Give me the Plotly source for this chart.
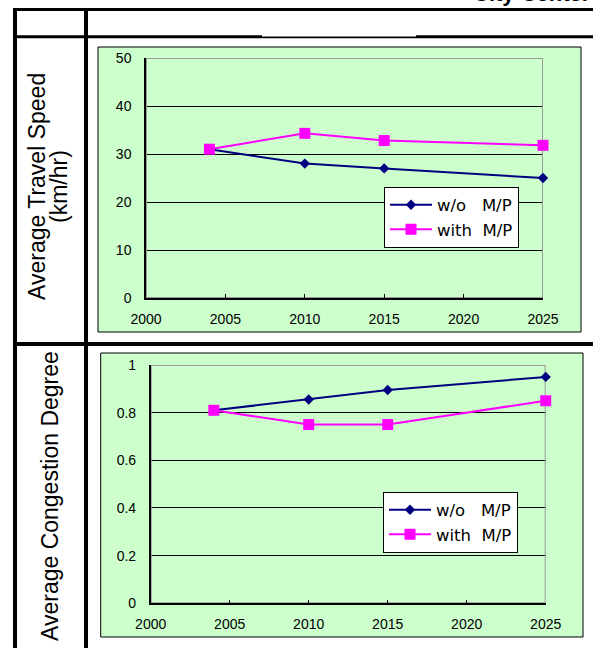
import plotly.graph_objects as go

# ---- data ----
years = [2004, 2010, 2015, 2025]
speed_without_mp = [31, 28, 27, 25]
speed_with_mp = [31, 34.3, 32.8, 31.8]
congestion_without_mp = [0.81, 0.855, 0.895, 0.95]
congestion_with_mp = [0.81, 0.75, 0.75, 0.85]
series_names = ["w/o\u00a0\u00a0\u00a0M/P", "with\u00a0\u00a0M/P"]
row_labels = ["Average Travel Speed", "(km/hr)", "Average Congestion Degree"]
header_text = "City Center"

x_range = [2000, 2025]
speed_range = [0, 50]
congestion_range = [0, 1]

W, H = 593, 648
FONT = "Arial, Liberation Sans, sans-serif"
LEGEND_FONT = "DejaVu Sans, Arial, sans-serif"
NAVY = "#000080"
MAGENTA = "#FF00FF"
PANEL = "#CCFFCC"
PLOTBG = "#FFFFCC"


def px_x(v):
    return v / W


def px_y(v):
    return 1 - v / H


fig = go.Figure()


def add_pair(ys_without, ys_with, xa, ya, leg):
    fig.add_trace(go.Scatter(
        x=years, y=ys_without, name=series_names[0], mode="lines+markers",
        line=dict(color=NAVY, width=2), marker=dict(symbol="diamond", size=8, color=NAVY),
        xaxis=xa, yaxis=ya, legend=leg, cliponaxis=False))
    fig.add_trace(go.Scatter(
        x=years, y=ys_with, name=series_names[1], mode="lines+markers",
        line=dict(color=MAGENTA, width=2), marker=dict(symbol="square", size=11, color=MAGENTA),
        xaxis=xa, yaxis=ya, legend=leg, cliponaxis=False))


add_pair(speed_without_mp, speed_with_mp, "x", "y", "legend")
add_pair(congestion_without_mp, congestion_with_mp, "x2", "y2", "legend2")

tickfont = dict(family=FONT, size=14, color="black")

xcommon = dict(range=x_range, dtick=5, tick0=2000, showgrid=False, zeroline=False,
               showline=True, linecolor="black", linewidth=1.5,
               ticks="inside", ticklen=4, tickcolor="black", tickwidth=1,
               tickfont=tickfont, ticklabelstandoff=7, fixedrange=True, automargin=False)
ycommon = dict(showgrid=True, gridcolor="black", gridwidth=1, zeroline=False,
               showline=True, linecolor="black", linewidth=1.5,
               ticks="", tickfont=tickfont, ticklabelstandoff=10, fixedrange=True,
               automargin=False)

legend_common = dict(bgcolor="white", bordercolor="black", borderwidth=1,
                     font=dict(family=LEGEND_FONT, size=16.5, color="black"),
                     xanchor="left", yanchor="top", tracegroupgap=0,
                     itemwidth=42)

fig.update_layout(
    template="none",
    width=W, height=H, autosize=False,
    margin=dict(l=0, r=0, t=0, b=0, pad=0),
    paper_bgcolor="white", plot_bgcolor=PLOTBG,
    font=dict(family=FONT, color="black"),
    xaxis=dict(domain=[px_x(146), px_x(543)], anchor="y", **xcommon),
    yaxis=dict(domain=[px_y(298), px_y(58)], anchor="x", range=speed_range, dtick=10,
               **ycommon),
    xaxis2=dict(domain=[px_x(150.7), px_x(545.7)], anchor="y2", **xcommon),
    yaxis2=dict(domain=[px_y(603.3), px_y(365)], anchor="x2", range=congestion_range,
                dtick=0.2, **ycommon),
    legend=dict(x=px_x(384), y=px_y(186.5), **legend_common),
    legend2=dict(x=px_x(383), y=px_y(491.5), **legend_common),
    showlegend=True,
)

shapes = []
# green chart panels
for x0, y0, x1, y1 in [(98, 47, 581, 332), (100.7, 353, 583, 637)]:
    shapes.append(dict(type="rect", xref="paper", yref="paper", layer="below",
                       x0=px_x(x0), x1=px_x(x1), y0=px_y(y1), y1=px_y(y0),
                       fillcolor=PANEL, line=dict(color="black", width=1)))
# grey frame around each plot area (above the grid, beneath the series)
for xr, yr, yrange in [("x", "y", speed_range), ("x2", "y2", congestion_range)]:
    shapes.append(dict(type="rect", xref=xr, yref=yr, layer="between",
                       x0=x_range[0], x1=x_range[1], y0=yrange[0], y1=yrange[1],
                       line=dict(color="#9a9a9a", width=2)))

# table rules
for y, w in [(9.5, 3), (36.7, 3), (344, 4)]:
    shapes.append(dict(type="line", xref="paper", yref="paper", layer="above",
                       x0=px_x(13), x1=1, y0=px_y(y), y1=px_y(y),
                       line=dict(color="black", width=w)))
for x in [15, 86]:
    shapes.append(dict(type="line", xref="paper", yref="paper", layer="above",
                       x0=px_x(x), x1=px_x(x), y0=px_y(8), y1=0,
                       line=dict(color="black", width=4)))
# white patch thinning the header rule
shapes.append(dict(type="rect", xref="paper", yref="paper", layer="above",
                   x0=px_x(262), x1=px_x(416), y0=px_y(36.5), y1=px_y(33),
                   fillcolor="white", line=dict(width=0)))
fig.update_layout(shapes=shapes)

label_font = dict(family=FONT, size=23, color="black")
annotations = [
    dict(text=row_labels[0], x=px_x(37), y=px_y(187), xref="paper", yref="paper",
         textangle=-90, showarrow=False, xanchor="center", yanchor="middle", font=label_font),
    dict(text=row_labels[1], x=px_x(59), y=px_y(187), xref="paper", yref="paper",
         textangle=-90, showarrow=False, xanchor="center", yanchor="middle", font=label_font),
    dict(text=row_labels[2], x=px_x(50), y=px_y(496), xref="paper", yref="paper",
         textangle=-90, showarrow=False, xanchor="center", yanchor="middle", font=label_font),
    # header title sits mostly above the page top, flush with the right edge
    dict(text="<b>" + header_text + "</b>", x=1, y=px_y(8), xref="paper", yref="paper",
         showarrow=False, xanchor="right", yanchor="bottom",
         font=dict(family=FONT, size=22, color="black")),
]
fig.update_layout(annotations=annotations)

fig.write_html("out.html")
